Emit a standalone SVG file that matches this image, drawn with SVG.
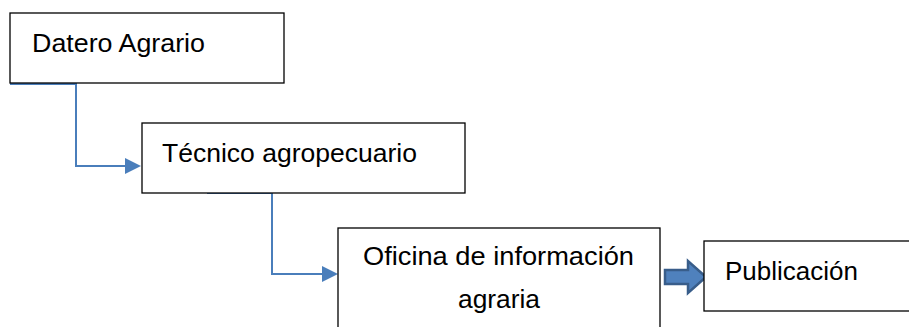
<svg xmlns="http://www.w3.org/2000/svg" width="909" height="327" viewBox="0 0 909 327">
<style>
.box{fill:#fff;stroke:#000;stroke-width:1.3}
.lbl{font-family:"Liberation Sans",Arial,sans-serif;font-size:25.5px;fill:#000}
.con{fill:none;stroke:#4A7EBB;stroke-width:2}
</style>
<defs>
<marker id="ah" markerWidth="8" markerHeight="8" refX="7" refY="4" orient="auto" markerUnits="strokeWidth">
<path d="M0,0 L8,4 L0,8 z" fill="#4A7EBB"/>
</marker>
</defs>
<rect width="909" height="327" fill="#fff"/>
<g id="connectors">
<path class="con" d="M10,84 H76 V166 H139" marker-end="url(#ah)"/>
<path class="con" d="M207,193 H272 V274 H336" marker-end="url(#ah)"/>
<path d="M665,270 H688 V261 L706,277 L688,293 V284 H665 Z" fill="#4F81BD" stroke="#385D8A" stroke-width="2.5" stroke-linejoin="miter"/>
</g>
<g id="node-datero">
<rect class="box" x="10" y="13" width="274" height="70"/>
<text class="lbl" x="32" y="52" textLength="173" lengthAdjust="spacingAndGlyphs">Datero Agrario</text>
</g>
<g id="node-tecnico">
<rect class="box" x="142" y="123" width="323" height="70"/>
<text class="lbl" x="162" y="162" textLength="255" lengthAdjust="spacingAndGlyphs">Técnico agropecuario</text>
</g>
<g id="node-oficina">
<rect class="box" x="338" y="228" width="322" height="110"/>
<text class="lbl" x="363" y="265" textLength="271" lengthAdjust="spacingAndGlyphs">Oficina de información</text>
<text class="lbl" x="458" y="308" textLength="82" lengthAdjust="spacingAndGlyphs">agraria</text>
</g>
<g id="node-publicacion">
<rect class="box" x="704" y="241" width="220" height="70"/>
<text class="lbl" x="725" y="280" textLength="133" lengthAdjust="spacingAndGlyphs">Publicación</text>
</g>
</svg>
